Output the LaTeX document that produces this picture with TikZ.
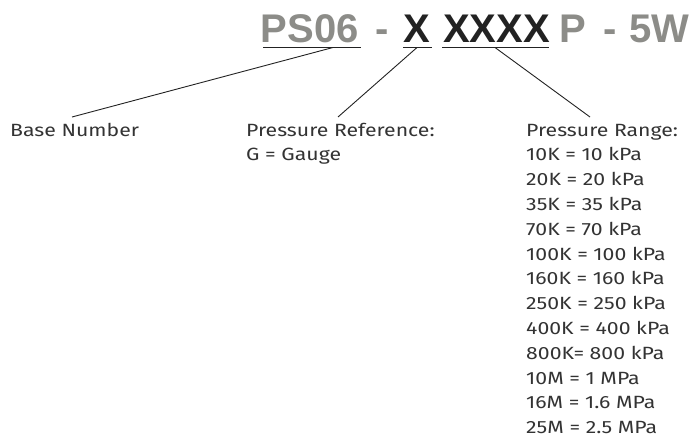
\documentclass[tikz,border=0pt]{standalone}
\usepackage{fontspec}
\setmainfont[FakeStretch=1.2]{Fira Sans}
\newfontfamily\titlefont{Liberation Sans}
\definecolor{tgray}{HTML}{8C8C88}
\definecolor{tdark}{HTML}{222222}
\definecolor{btext}{HTML}{333333}
\begin{document}
\begin{tikzpicture}[x=1pt,y=-1pt,
  tpart/.style={inner sep=0pt,anchor=base west,font=\titlefont\bfseries\fontsize{40}{40}\selectfont},
  lbl/.style={inner sep=0pt,anchor=base west,text=btext,font=\fontsize{17.7}{24.8}\selectfont},
  uline/.style={draw=tdark,line width=1.3pt},
  lead/.style={draw=tdark,line width=0.9pt}]
\useasboundingbox (0,0) rectangle (692,444);
% title
\node[tpart,text=tgray] (ps) at (260.5,43) {PS06};
\node[tpart,text=tgray] (d1) at (375,43) {-};
\node[tpart,text=tdark] (x1) at (403,43) {X};
\node[tpart,text=tdark] (x4) at (443,43) {XXXX};
\node[tpart,text=tgray] (pp) at (559,43) {P};
\node[tpart,text=tgray] (d2) at (603,43) {-};
\node[tpart,text=tgray] (fw) at (629,43) {5W};
% underlines
\coordinate (u1a) at (263,47.5); \coordinate (u1b) at (361,47.5);
\coordinate (u2a) at (403,47.5); \coordinate (u2b) at (432,47.5);
\coordinate (u3a) at (442,47.5); \coordinate (u3b) at (549,47.5);
\draw[uline] (u1a) -- (u1b);
\draw[uline] (u2a) -- (u2b);
\draw[uline] (u3a) -- (u3b);
% labels
\node[lbl] (base) at (10,136) {Base Number};
\node[lbl] (ref) at (246,136) {\begin{tabular}[t]{@{}l@{}}Pressure Reference:\\G = Gauge\end{tabular}};
\node[lbl] (rng) at (526,136) {\begin{tabular}[t]{@{}l@{}}Pressure Range:\\10K = 10 kPa\\20K = 20 kPa\\35K = 35 kPa\\70K = 70 kPa\\100K = 100 kPa\\160K = 160 kPa\\250K = 250 kPa\\400K = 400 kPa\\800K= 800 kPa\\10M = 1 MPa\\16M = 1.6 MPa\\25M = 2.5 MPa\end{tabular}};
% leader endpoints
\coordinate (s1) at (333,47.5); \coordinate (e1) at (72,117);
\coordinate (s2) at (417,47.5); \coordinate (e2) at (338,117);
\coordinate (s3) at (495,47.5); \coordinate (e3) at (590,117);
\draw[lead] (s1) -- (e1);
\draw[lead] (s2) -- (e2);
\draw[lead] (s3) -- (e3);
\end{tikzpicture}
\end{document}
